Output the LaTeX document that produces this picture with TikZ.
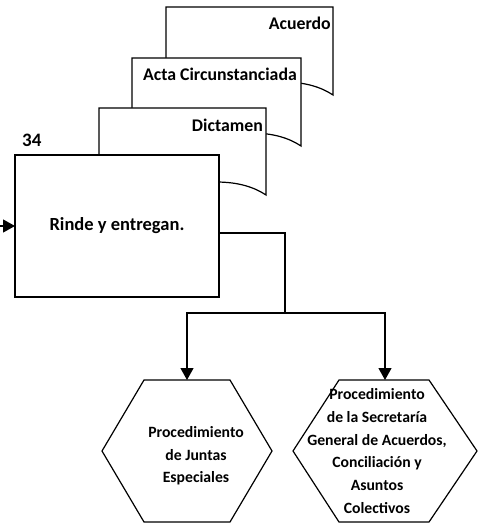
\documentclass[tikz,border=0pt]{standalone}
\usepackage{fontspec}
\setmainfont{Carlito}
\usetikzlibrary{calc,arrows.meta}

% Document symbol: flat top, wavy bottom edge ending low at the right corner
\newcommand{\DocShape}[4]{%
  \filldraw[outline] (#1,#2) -- (#3,#2) -- (#3,#4)
    .. controls ({#3-12},{#4-8}) and ({#3-28},{#4-13}) .. ({#3-50},{#4-13})
    .. controls ({#3-90},{#4-13}) and ({#1+40},{#4+5}) .. ({#1},{#4-3}) -- cycle;}

\begin{document}
\begin{tikzpicture}[x=1pt,y=-1pt,
  outline/.style={draw=black,line width=1.2pt,fill=white},
  flow/.style={draw=black,line width=1.2pt},
  tip/.style={-{Triangle[length=12pt,width=13pt]}},
  doclabel/.style={font=\bfseries\fontsize{17.8}{21}\selectfont,inner sep=0pt,anchor=east},
  boxtext/.style={font=\bfseries\fontsize{18.5}{22}\selectfont,align=center},
  hexframe/.style={draw=none,inner sep=0pt,outer sep=0pt},
  hextext/.style={font=\bfseries\fontsize{15.7}{22.7}\selectfont,align=center,inner sep=0pt}
]
\useasboundingbox (0,0) rectangle (482,529);

% stacked documents, back to front
\DocShape{166}{7}{333}{95}
\node[doclabel] (acuerdo) at (331,23) {Acuerdo};
\DocShape{132}{58}{301}{146}
\node[doclabel] (acta) at (297,74) {Acta Circunstanciada};
\DocShape{99}{108}{266}{195}
\node[doclabel] (dictamen) at (263,125) {Dictamen};

% activity 34
\node[font=\bfseries\fontsize{19}{22}\selectfont,inner sep=0pt,anchor=west] (num) at (22,140) {34};
\node[outline,minimum width=204pt,minimum height=142pt,inner sep=0pt,outer sep=0pt,boxtext]
  (rinde) at (117,226) {Rinde y entregan.};

% hexagonal off-page procedures
\node[hexframe,minimum width=170pt,minimum height=142pt] (hexL) at (187,451) {};
\node[hexframe,minimum width=184pt,minimum height=142pt] (hexR) at (385,451) {};
\draw[outline] (hexL.west) -- ($(hexL.north west)+(42,0)$) -- ($(hexL.north east)+(-42,0)$)
  -- (hexL.east) -- ($(hexL.south east)+(-42,0)$) -- ($(hexL.south west)+(42,0)$) -- cycle;
\draw[outline] (hexR.west) -- ($(hexR.north west)+(46,0)$) -- ($(hexR.north east)+(-48,0)$)
  -- (hexR.east) -- ($(hexR.south east)+(-48,0)$) -- ($(hexR.south west)+(46,0)$) -- cycle;
\node[hextext] (juntas) at (196,456) {Procedimiento\\de Juntas\\Especiales};
\node[hextext] (secretaria) at (377,451)
  {Procedimiento\\de la Secretaría\\General de Acuerdos,\\Conciliación y\\Asuntos\\Colectivos};

% connectors
\coordinate (entry) at (0,226);
\coordinate (split) at (285,313);
\draw[flow,tip] (entry) -- (rinde.west |- entry);
\draw[flow] ($(rinde.east)+(0,7)$) -| (split);
\draw[flow,tip] (split) -| (hexL.north);
\draw[flow,tip] (split) -| (hexR.north);
\end{tikzpicture}
\end{document}
